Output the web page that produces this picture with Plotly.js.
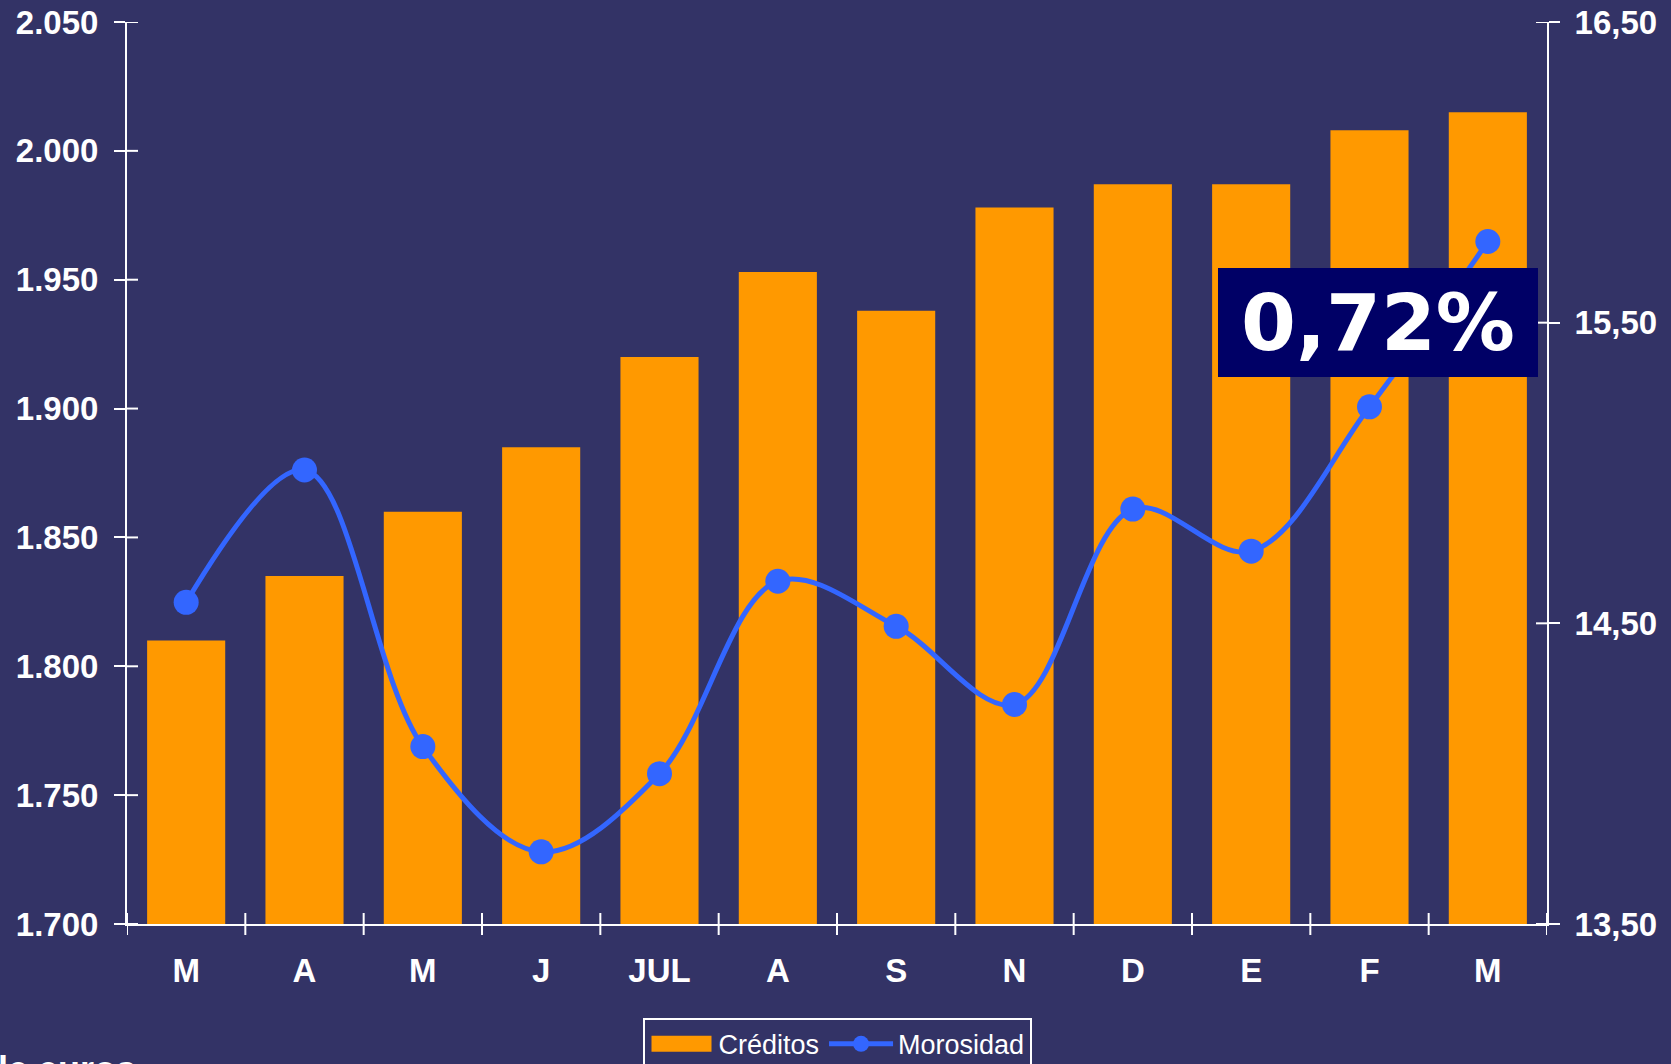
<!DOCTYPE html>
<html>
<head>
<meta charset="utf-8">
<script src="https://cdn.plot.ly/plotly-3.0.1.min.js"></script>
<style>
  html, body { margin: 0; padding: 0; background: #333366; }
  #chart { width: 1671px; height: 1064px; }
</style>
</head>
<body>
<div id="chart"></div>
<script>
// ---- data ----
const months = ["M", "A", "M", "J", "JUL", "A", "S", "N", "D", "E", "F", "M"];
const creditos = [1810, 1835, 1860, 1885, 1920, 1953, 1938, 1978, 1987, 1987, 2008, 2015];
const morosidad = [14.57, 15.01, 14.09, 13.74, 14.00, 14.64, 14.49, 14.23, 14.88, 14.74, 15.22, 15.77];
const leftTicks = [1700, 1750, 1800, 1850, 1900, 1950, 2000, 2050];
const rightTicks = [13.5, 14.5, 15.5, 16.5];
const highlight = "0,72%";
const unitsLabel = "Millones de euros";

// ---- derived positions ----
const idx = months.map((_, i) => i);
const bounds = months.map((_, i) => i - 0.5).concat([months.length - 0.5]);
const xr = [-0.5, months.length - 0.5];

const BG = "#333366";
const WHITE = "#ffffff";
const tickFont = { family: "Liberation Sans, Arial, sans-serif", size: 33, color: WHITE, weight: "bold" };

const traces = [
  {
    type: "bar", name: "Créditos", x: idx, y: creditos,
    marker: { color: "#FF9900", line: { width: 0 } },
    xaxis: "x", yaxis: "y", hoverinfo: "skip"
  },
  {
    type: "scatter", mode: "lines+markers", name: "Morosidad", x: idx, y: morosidad,
    line: { color: "#3366FF", width: 5, shape: "spline", smoothing: 1 },
    marker: { color: "#3366FF", size: 25 },
    xaxis: "x", yaxis: "y2", hoverinfo: "skip"
  }
];

// crossing tick halves drawn as pixel-sized shapes anchored on axis values
const shapes = [];
bounds.forEach(b => shapes.push({
  type: "line", xref: "x", yref: "paper", x0: b, x1: b,
  ysizemode: "pixel", yanchor: 0, y0: -11, y1: 11,
  line: { color: WHITE, width: 2 }, layer: "above"
}));
leftTicks.forEach(v => shapes.push({
  type: "line", xref: "paper", yref: "y", y0: v, y1: v,
  xsizemode: "pixel", xanchor: 0, x0: 0, x1: 11,
  line: { color: WHITE, width: 2 }, layer: "above"
}));
rightTicks.forEach(v => shapes.push({
  type: "line", xref: "paper", yref: "y2", y0: v, y1: v,
  xsizemode: "pixel", xanchor: 1, x0: -11, x1: 0,
  line: { color: WHITE, width: 2 }, layer: "above"
}));

const layout = {
  width: 1671, height: 1064,
  paper_bgcolor: BG, plot_bgcolor: BG,
  margin: { l: 127, r: 124, t: 22, b: 140, autoexpand: false },
  separators: ",.",
  bargap: 0.34,
  showlegend: true,
  legend: {
    orientation: "h", x: 0.5, xanchor: "center", y: -0.104, yanchor: "top",
    bgcolor: BG, bordercolor: WHITE, borderwidth: 2,
    font: { family: "Liberation Sans, Arial, sans-serif", size: 27, color: WHITE },
    itemwidth: 64, traceorder: "normal"
  },
  xaxis: {
    range: xr, tickvals: idx, ticktext: months, ticks: "", showgrid: false, zeroline: false,
    showline: true, linecolor: WHITE, linewidth: 2, tickfont: tickFont,
    ticklabelstandoff: 16, fixedrange: true
  },
  yaxis: {
    range: [1700, 2050], tickvals: leftTicks, tickformat: ",d", separatethousands: true,
    ticks: "outside", ticklen: 11, tickwidth: 2, tickcolor: WHITE,
    showline: true, linecolor: WHITE, linewidth: 2, showgrid: false, zeroline: false,
    tickfont: tickFont, ticklabelstandoff: 9, fixedrange: true
  },
  yaxis2: {
    overlaying: "y", anchor: "x", side: "right", range: [13.5, 16.5], tickvals: rightTicks,
    tickformat: ".2f",
    ticks: "outside", ticklen: 11, tickwidth: 2, tickcolor: WHITE,
    showline: true, linecolor: WHITE, linewidth: 2, showgrid: false, zeroline: false,
    tickfont: tickFont, ticklabelstandoff: 8, fixedrange: true
  },
  shapes: shapes,
  annotations: [
    {
      xref: "paper", yref: "paper", x: 0.881, y: 0.6674, xanchor: "center", yanchor: "middle",
      text: "<b>" + highlight + "</b>", showarrow: false,
      font: { family: "DejaVu Sans, sans-serif", size: 79, color: WHITE },
      bgcolor: "#000066", width: 320, height: 109, borderpad: 0, borderwidth: 0
    },
    {
      xref: "paper", yref: "paper", x: 0.0075, y: -0.136, xanchor: "right", yanchor: "top",
      text: "<b>" + unitsLabel + "</b>", showarrow: false,
      font: { family: "Liberation Sans, Arial, sans-serif", size: 36, color: WHITE }
    }
  ]
};

Plotly.newPlot("chart", traces, layout, { displayModeBar: false, staticPlot: true }).then(gd => {
  // widen the bar legend swatch to a flat rectangle like the original
  gd.querySelectorAll(".legend .traces .legendpoints path").forEach(p => {
    const d = p.getAttribute("d") || "";
    if (d.indexOf("M6,6H-6V-6H6Z") === 0) p.setAttribute("d", "M30,8H-30V-8H30Z");
  });
});
</script>
</body>
</html>
